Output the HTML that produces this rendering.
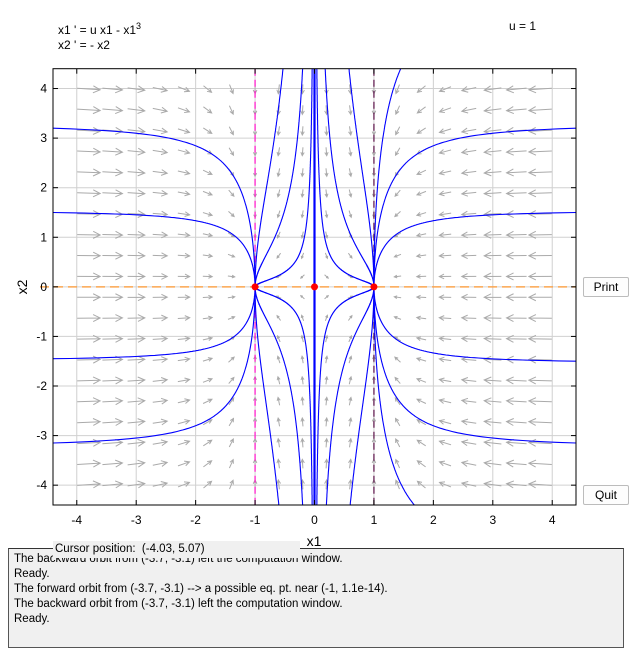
<!DOCTYPE html>
<html><head><meta charset="utf-8">
<style>
body{margin:0;background:#fff;font-family:"Liberation Sans",sans-serif;}
#wrap{position:relative;width:636px;height:649px;overflow:hidden;background:#fff;}
.btn{position:absolute;background:#fdfdfd;border:1px solid #bcbcbc;border-radius:2px;font-size:12px;text-align:center;line-height:18px;}
#msg{position:absolute;left:8px;top:548px;width:616px;height:100px;background:#f0f0f0;border:1px solid #555;border-top:1px solid #333;box-sizing:border-box;font-size:11.5px;line-height:15px;padding:3px 0 0 5px;color:#000;}
#cursor{position:absolute;left:53px;top:541px;width:245px;height:17px;background:#f0f0f0;font-size:11.5px;line-height:17px;padding-left:2px;}
</style></head><body>
<div id="wrap">
<svg id="svg" width="636" height="649" style="position:absolute;left:0;top:0"></svg>
<div class="btn" style="left:583px;top:277px;width:44px;height:18px">Print</div>
<div class="btn" style="left:583px;top:485px;width:44px;height:18px">Quit</div>
<div id="msg">The backward orbit from (-3.7, -3.1) left the computation window.<br>Ready.<br>The forward orbit from (-3.7, -3.1) --&gt; a possible eq. pt. near (-1, 1.1e-14).<br>The backward orbit from (-3.7, -3.1) left the computation window.<br>Ready.</div>
<div id="cursor">Cursor position:&nbsp; (-4.03, 5.07)</div>
</div>
<script>
const xTicks=[-4,-3,-2,-1,0,1,2,3,4];
const yTicks=[-4,-3,-2,-1,0,1,2,3,4];
const eqX=[-1,0,1];
const eqY=[0,0,0];
const startX=[-4.4,-4.4,-4.4,-4.4,4.4,4.4,4.4,4.4,-0.53,-0.2,0.18,0.58,1.45,-0.6,-0.2,0.2,0.6,1.68,0.5,-0.5,0.5,-0.5];
const startY=[3.2,1.5,-1.45,-3.15,3.2,1.5,-1.5,-3.15,4.4,4.4,4.4,4.4,4.4,-4.4,-4.4,-4.4,-4.4,-4.4,0.3,0.3,-0.3,-0.3];
const X0=-4.4,X1=4.4,Y0=-4.4,Y1=4.4;
const L=53,R=576,T=68.7,B=505;
const sx=v=>L+(v-X0)/(X1-X0)*(R-L);
const sy=v=>B-(v-Y0)/(Y1-Y0)*(B-T);
const NS='http://www.w3.org/2000/svg';
const svg=document.getElementById('svg');
function mk(t,a,p){const e=document.createElementNS(NS,t);for(const k in a)e.setAttribute(k,a[k]);(p||svg).appendChild(e);return e;}
function f(x,y){return [x-x*x*x,-y];}
const defs=mk('defs',{});const cp=mk('clipPath',{id:'cp'},defs);mk('rect',{x:L,y:T,width:R-L,height:B-T},cp);
const grid=mk('g',{});


xTicks.forEach(v=>mk('line',{x1:sx(v),x2:sx(v),y1:T,y2:B,stroke:'#d0d0d0','stroke-width':1},grid));
yTicks.forEach(v=>mk('line',{x1:L,x2:R,y1:sy(v),y2:sy(v),stroke:'#d0d0d0','stroke-width':1},grid));
const ag=mk('g',{stroke:'#aaaaaa','stroke-width':1,fill:'none'});


const cols=[],rows=[];
for(let k=0;k<10;k++){cols.push(0.2+0.4*k,-(0.2+0.4*k));rows.push(0.21+0.42*k,-(0.21+0.42*k));}
let mmax=0;cols.forEach(x=>rows.forEach(y=>{const[u,v]=f(x,y);mmax=Math.max(mmax,Math.hypot(u,v));}));
cols.forEach(x=>rows.forEach(y=>{
 const[u,v]=f(x,y);const du=u*(R-L)/8.8,dv=-v*(B-T)/8.8;const m=Math.hypot(du,dv);if(m<1e-9)return;
 const mm=Math.hypot(u,v);const len=3+20*Math.pow(mm/mmax,0.45);
 const ux=du/m,uy=dv/m;const cx=sx(x),cy=sy(y);
 const x1=cx-ux*len/2,y1=cy-uy*len/2,x2=cx+ux*len/2,y2=cy+uy*len/2;
 const h=Math.min(7,len*0.4);
 const px=-uy,py=ux;
 mk('path',{d:`M${x1},${y1}L${x2},${y2}M${x2-ux*h+px*h*0.5},${y2-uy*h+py*h*0.5}L${x2},${y2}L${x2-ux*h-px*h*0.5},${y2-uy*h-py*h*0.5}`},ag);
}));
const ng=mk('g',{'clip-path':'url(#cp)'});


mk('line',{x1:sx(-1),x2:sx(-1),y1:T,y2:B,stroke:'#ff22cc','stroke-width':1.3,'stroke-dasharray':'7,4'},ng);
mk('line',{x1:sx(0),x2:sx(0),y1:T,y2:B,stroke:'#ff22cc','stroke-width':1.3,'stroke-dasharray':'7,4'},ng);
mk('line',{x1:sx(1),x2:sx(1),y1:T,y2:B,stroke:'#662255','stroke-width':1.3,'stroke-dasharray':'7,4'},ng);
mk('line',{x1:40,x2:R,y1:sy(0),y2:sy(0),stroke:'#ffa040','stroke-width':1.5,'stroke-dasharray':'9,5',opacity:0.9});
const tg=mk('g',{'clip-path':'url(#cp)',fill:'none',stroke:'#0000ff','stroke-width':1.1});


function integ(x,y,dir){const pts=[[x,y]];let h=0.004*dir;
 for(let i=0;i<6000;i++){const k1=f(x,y),k2=f(x+h/2*k1[0],y+h/2*k1[1]),k3=f(x+h/2*k2[0],y+h/2*k2[1]),k4=f(x+h*k3[0],y+h*k3[1]);
  x+=h/6*(k1[0]+2*k2[0]+2*k3[0]+k4[0]);y+=h/6*(k1[1]+2*k2[1]+2*k3[1]+k4[1]);
  if(!isFinite(x)||!isFinite(y))break;pts.push([x,y]);
  if(Math.abs(x)>4.6||Math.abs(y)>4.6)break;}
 return pts;}
startX.forEach((x0,i)=>{const y0=startY[i];
 const a=integ(x0,y0,-1).reverse(),b=integ(x0,y0,1);const pts=a.concat(b);
 const p=mk('path',{d:'M'+pts.map(q=>sx(q[0]).toFixed(1)+','+sy(q[1]).toFixed(1)).join('L')},tg);
 
 });
mk('line',{x1:sx(0),x2:sx(0),y1:T,y2:B,stroke:'#0000ff','stroke-width':2.2},tg);
eqX.forEach((x,i)=>{const c=mk('circle',{cx:sx(x),cy:sy(eqY[i]),r:3.5,fill:'#ff0000'});
 
 });
mk('rect',{x:L,y:T,width:R-L,height:B-T,fill:'none',stroke:'#000','stroke-width':1});
const tk=mk('g',{stroke:'#000','stroke-width':1});
xTicks.forEach(v=>{mk('line',{x1:sx(v),x2:sx(v),y1:T,y2:T+5},tk);mk('line',{x1:sx(v),x2:sx(v),y1:B,y2:B-5},tk);
 const t=mk('text',{x:sx(v),y:B+19,'text-anchor':'middle','font-size':12,fill:'#000',stroke:'none'});t.textContent=v;
 });
yTicks.forEach(v=>{mk('line',{x1:L,x2:L+5,y1:sy(v),y2:sy(v)},tk);mk('line',{x1:R,x2:R-5,y1:sy(v),y2:sy(v)},tk);
 const t=mk('text',{x:L-6,y:sy(v)+4,'text-anchor':'end','font-size':12,fill:'#000',stroke:'none'});t.textContent=v;
 });
let t=mk('text',{x:314,y:546,'text-anchor':'middle','font-size':14});t.textContent='x1';

t=mk('text',{x:27,y:287,'text-anchor':'middle','font-size':14,transform:'rotate(-90 27 287)'});t.textContent='x2';

t=mk('text',{x:58,y:34,'font-size':12});t.innerHTML='x1 \' = u x1 - x1<tspan dy="-5" font-size="9">3</tspan>';

t=mk('text',{x:58,y:49,'font-size':12});t.textContent="x2 ' = - x2";

t=mk('text',{x:509,y:30,'font-size':12});t.textContent='u = 1';

</script>
</body></html>
